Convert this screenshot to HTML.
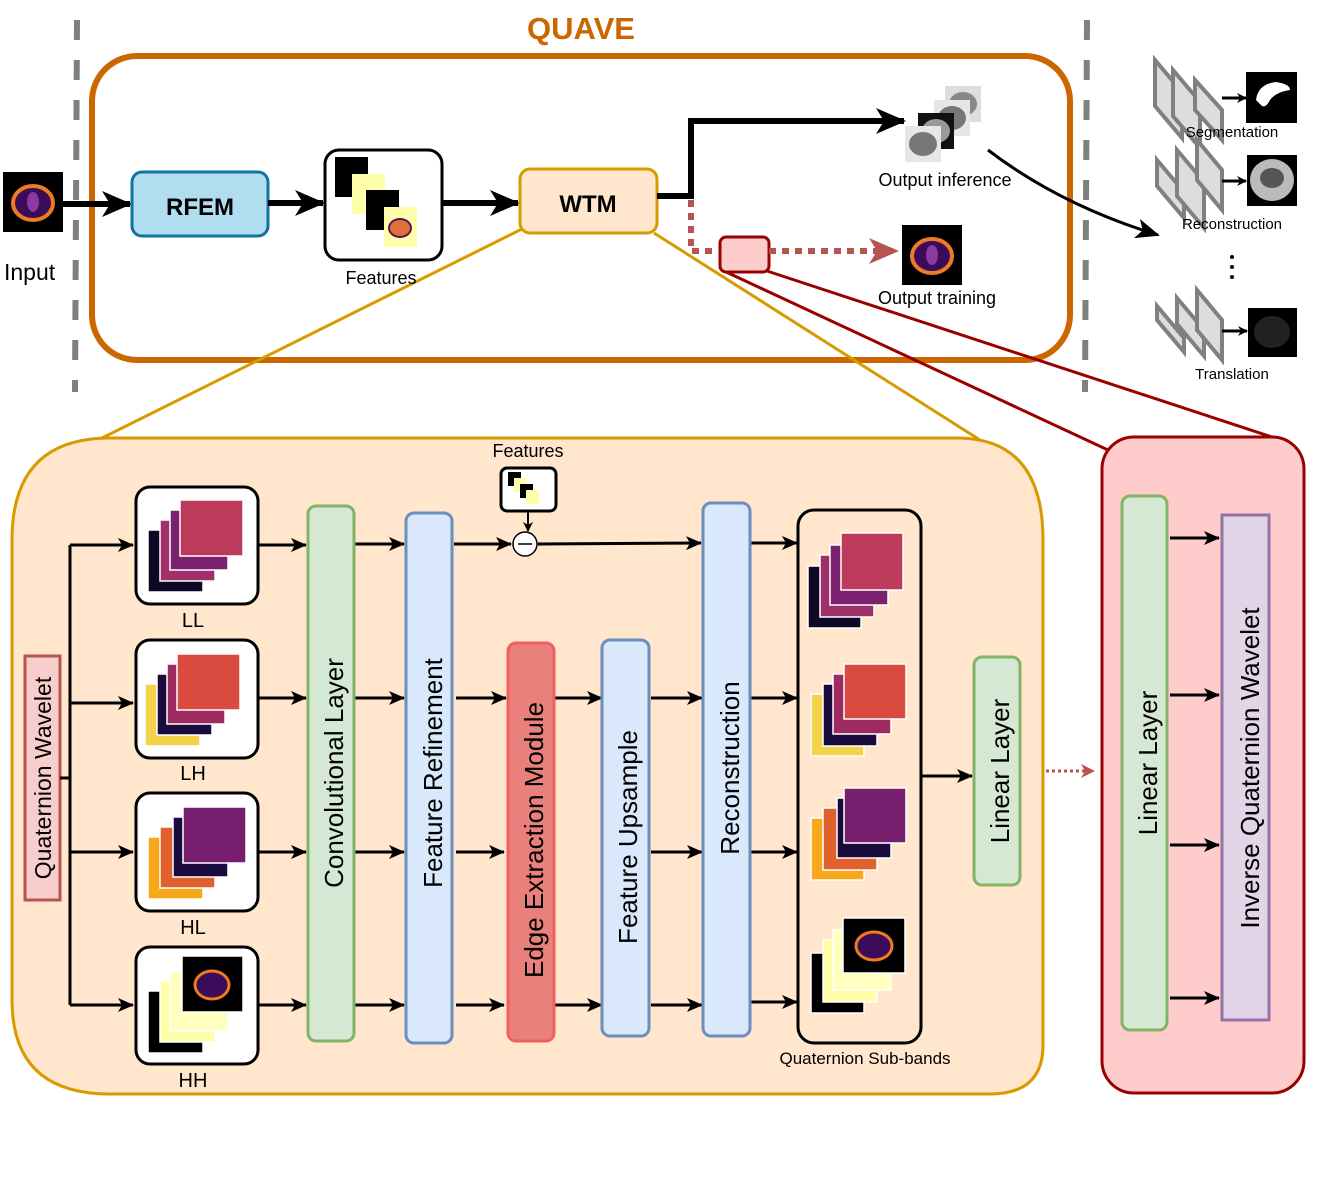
<!DOCTYPE html>
<html><head><meta charset="utf-8"><style>
html,body{margin:0;padding:0;background:#fff;}
svg{display:block;font-family:"Liberation Sans",Arial,sans-serif;}
</style></head><body>
<svg width="1329" height="1179" viewBox="0 0 1329 1179" xmlns="http://www.w3.org/2000/svg">
<defs>
<marker id="ah" markerWidth="16" markerHeight="16" refX="15" refY="8" orient="auto" markerUnits="userSpaceOnUse"><path d="M0,1 L16,8 L0,15 L4,8 Z" fill="#000"/></marker>
<marker id="ahs" markerWidth="10" markerHeight="10" refX="9" refY="5" orient="auto" markerUnits="userSpaceOnUse"><path d="M0,0 L10,5 L0,10 L3,5 Z" fill="#000"/></marker>
<marker id="ahb" markerWidth="30" markerHeight="30" refX="28" refY="15" orient="auto" markerUnits="userSpaceOnUse"><path d="M0,2 L30,15 L0,28 L8,15 Z" fill="#000"/></marker>
<marker id="ahm" markerWidth="24" markerHeight="24" refX="22" refY="12" orient="auto" markerUnits="userSpaceOnUse"><path d="M0,2 L24,12 L0,22 L6,12 Z" fill="#000"/></marker>
<marker id="ahr" markerWidth="30" markerHeight="30" refX="28" refY="15" orient="auto" markerUnits="userSpaceOnUse"><path d="M0,2 L30,15 L0,28 L8,15 Z" fill="#B85450"/></marker>
<marker id="ahr2" markerWidth="14" markerHeight="14" refX="13" refY="7" orient="auto" markerUnits="userSpaceOnUse"><path d="M0,0 L14,7 L0,14 L4,7 Z" fill="#B85450"/></marker>
<g id="brain">
<rect x="0" y="0" width="60" height="60" fill="#000"/>
<ellipse cx="30" cy="31" rx="20" ry="17" fill="#3a0c5a" stroke="#F07A20" stroke-width="4"/>
<ellipse cx="30" cy="30" rx="6" ry="10" fill="#8a3aa0"/>
</g>
</defs>

<line x1="77" y1="20" x2="75" y2="392" stroke="#808080" stroke-width="6" stroke-dasharray="20,20"/>
<line x1="1087" y1="20" x2="1085" y2="392" stroke="#808080" stroke-width="6" stroke-dasharray="20,20"/>

<text x="581" y="39" font-size="31" font-weight="bold" fill="#CC6600" text-anchor="middle">QUAVE</text>
<rect x="92" y="56" width="978" height="304" rx="45" fill="none" stroke="#CC6600" stroke-width="6"/>

<line x1="522" y1="229" x2="98" y2="440" stroke="#D79B00" stroke-width="3"/>
<line x1="654" y1="233" x2="980" y2="440" stroke="#D79B00" stroke-width="3"/>
<line x1="724" y1="271" x2="1108" y2="450" stroke="#990000" stroke-width="3"/>
<line x1="767" y1="271" x2="1275" y2="438" stroke="#990000" stroke-width="3"/>

<use href="#brain" x="3" y="172"/>
<text x="4" y="280" font-size="23">Input</text>
<line x1="63" y1="204" x2="130" y2="204" stroke="#000" stroke-width="6" marker-end="url(#ahb)"/>
<rect x="132" y="172" width="136" height="64" rx="10" fill="#B1DDF0" stroke="#10739E" stroke-width="3"/>
<text x="200" y="215" font-size="24" font-weight="bold" text-anchor="middle">RFEM</text>
<line x1="268" y1="203" x2="323" y2="203" stroke="#000" stroke-width="6" marker-end="url(#ahb)"/>
<rect x="325" y="150" width="117" height="110" rx="14" fill="#fff" stroke="#000" stroke-width="3"/>
<rect x="335" y="157" width="33" height="40" fill="#000"/>
<rect x="352" y="174" width="33" height="40" fill="#FFFFAA"/>
<rect x="366" y="190" width="33" height="40" fill="#000"/>
<rect x="384" y="207" width="33" height="40" fill="#FFFFAA"/>
<ellipse cx="400" cy="228" rx="11" ry="9" fill="#E0703A" stroke="#601060" stroke-width="2"/>
<text x="381" y="284" font-size="18" text-anchor="middle">Features</text>
<line x1="442" y1="203" x2="518" y2="203" stroke="#000" stroke-width="6" marker-end="url(#ahb)"/>
<rect x="520" y="169" width="137" height="64" rx="10" fill="#FFE6CC" stroke="#D79B00" stroke-width="3"/>
<text x="588" y="212" font-size="24" font-weight="bold" text-anchor="middle">WTM</text>

<polyline points="657,196 691,196 691,121 904,121" fill="none" stroke="#000" stroke-width="6" marker-end="url(#ahb)"/>
<rect x="945" y="86" width="36" height="36" fill="#ddd"/>
<ellipse cx="963" cy="104" rx="14" ry="12" fill="#888"/>
<rect x="934" y="100" width="36" height="36" fill="#e6e6e6"/>
<ellipse cx="952" cy="118" rx="14" ry="12" fill="#777"/>
<rect x="918" y="113" width="36" height="36" fill="#111"/>
<ellipse cx="936" cy="131" rx="14" ry="12" fill="#999"/>
<rect x="905" y="126" width="36" height="36" fill="#e6e6e6"/>
<ellipse cx="923" cy="144" rx="14" ry="12" fill="#777"/>
<text x="945" y="186" font-size="18" text-anchor="middle">Output inference</text>
<path d="M988,150 Q1060,205 1158,235" fill="none" stroke="#000" stroke-width="3" marker-end="url(#ahm)"/>

<polyline points="691,200 691,251 718,251" fill="none" stroke="#B85450" stroke-width="6" stroke-dasharray="7,6"/>
<rect x="720" y="237" width="49" height="35" rx="6" fill="#FFCCCC" stroke="#990000" stroke-width="3"/>
<line x1="769" y1="251" x2="897" y2="251" stroke="#B85450" stroke-width="6" stroke-dasharray="7,6" marker-end="url(#ahr)"/>
<use href="#brain" x="902" y="225"/>
<text x="937" y="304" font-size="18" text-anchor="middle">Output training</text>

<g fill="#DDDDDD" stroke="#808080" stroke-width="4">
<polygon points="1155,60 1182,92 1182,138 1155,106"/>
<polygon points="1173,70 1200,102 1200,148 1173,116"/>
<polygon points="1195,80 1222,110 1222,140 1195,110"/>
<polygon points="1157,160 1184,192 1184,218 1157,186"/>
<polygon points="1177,150 1204,182 1204,228 1177,196"/>
<polygon points="1197,140 1222,170 1222,210 1197,180"/>
<polygon points="1157,306 1184,338 1184,352 1157,320"/>
<polygon points="1177,298 1204,330 1204,356 1177,324"/>
<polygon points="1197,290 1222,320 1222,360 1197,330"/>
</g>
<line x1="1222" y1="98" x2="1246" y2="98" stroke="#000" stroke-width="3" marker-end="url(#ahs)"/>
<line x1="1222" y1="181" x2="1246" y2="181" stroke="#000" stroke-width="3" marker-end="url(#ahs)"/>
<line x1="1222" y1="331" x2="1247" y2="331" stroke="#000" stroke-width="3" marker-end="url(#ahs)"/>
<rect x="1246" y="72" width="51" height="51" fill="#000"/>
<path d="M1256,100 Q1258,84 1276,82 Q1290,84 1290,90 Q1276,92 1270,100 Q1266,108 1262,106 Z" fill="#fff"/>
<rect x="1247" y="155" width="50" height="51" fill="#000"/>
<ellipse cx="1272" cy="180" rx="22" ry="21" fill="#bbb"/>
<ellipse cx="1272" cy="178" rx="12" ry="10" fill="#555"/>
<rect x="1248" y="308" width="49" height="49" fill="#000"/>
<ellipse cx="1272" cy="332" rx="18" ry="16" fill="#222"/>
<text x="1232" y="137" font-size="15" text-anchor="middle">Segmentation</text>
<text x="1232" y="229" font-size="15" text-anchor="middle">Reconstruction</text>
<circle cx="1232" cy="257" r="2" fill="#000"/><circle cx="1232" cy="267" r="2" fill="#000"/><circle cx="1232" cy="277" r="2" fill="#000"/>
<text x="1232" y="379" font-size="15" text-anchor="middle">Translation</text>

<path d="M110,438 L960,438 Q1043,440 1043,540 L1043,1045 Q1043,1094 990,1094 L110,1094 Q12,1094 12,1000 L12,540 Q12,438 110,438 Z" fill="#FFE6CC" stroke="#D79B00" stroke-width="3"/>

<rect x="25" y="656" width="35" height="244" fill="#F8CECC" stroke="#B85450" stroke-width="3"/>
<text transform="translate(51,778) rotate(-90)" font-size="23" text-anchor="middle">Quaternion Wavelet</text>
<line x1="60" y1="778" x2="70" y2="778" stroke="#000" stroke-width="3"/>
<line x1="70" y1="545" x2="70" y2="1005" stroke="#000" stroke-width="3"/>
<g stroke="#000" stroke-width="3" marker-end="url(#ah)">
<line x1="70" y1="545" x2="133" y2="545"/><line x1="70" y1="703" x2="133" y2="703"/>
<line x1="70" y1="852" x2="133" y2="852"/><line x1="70" y1="1005" x2="133" y2="1005"/>
</g>

<g stroke="#000" stroke-width="3" fill="#fff">
<rect x="136" y="487" width="122" height="117" rx="14"/>
<rect x="136" y="640" width="122" height="118" rx="14"/>
<rect x="136" y="793" width="122" height="118" rx="14"/>
<rect x="136" y="947" width="122" height="117" rx="14"/>
</g>
<g stroke="#fff" stroke-width="1.5">
<g transform="translate(135,486)"><rect x="13" y="44" width="55" height="62" fill="#0C0826"/><rect x="25" y="34" width="55" height="61" fill="#A0306A"/><rect x="35" y="24" width="58" height="60" fill="#7A2270"/><rect x="45" y="14" width="63" height="56" fill="#BC3A5A"/></g>
<g transform="translate(135,640)"><rect x="10" y="44" width="55" height="62" fill="#F3D34A"/><rect x="22" y="34" width="55" height="61" fill="#1A0B3F"/><rect x="32" y="24" width="58" height="60" fill="#9E2B60"/><rect x="42" y="14" width="63" height="56" fill="#D94B40"/></g>
<g transform="translate(135,793)"><rect x="13" y="44" width="55" height="62" fill="#F9A81C"/><rect x="25" y="34" width="55" height="61" fill="#E0602E"/><rect x="38" y="24" width="55" height="60" fill="#1A0B3F"/><rect x="48" y="14" width="63" height="56" fill="#771E6E"/></g>
<g transform="translate(135,947)"><rect x="13" y="44" width="55" height="62" fill="#000"/><rect x="25" y="34" width="55" height="61" fill="#FFFFAA"/><rect x="35" y="24" width="58" height="60" fill="#FFFFC0"/><rect x="47" y="9" width="61" height="56" fill="#000"/></g>
</g>
<ellipse cx="212" cy="985" rx="17" ry="14" fill="#3a0c5a" stroke="#F07A20" stroke-width="3"/>
<g font-size="20" text-anchor="middle"><text x="193" y="627">LL</text><text x="193" y="780">LH</text><text x="193" y="934">HL</text><text x="193" y="1087">HH</text></g>

<g stroke="#000" stroke-width="3" marker-end="url(#ah)">
<line x1="258" y1="545" x2="306" y2="545"/><line x1="258" y1="698" x2="306" y2="698"/><line x1="258" y1="852" x2="306" y2="852"/><line x1="258" y1="1005" x2="306" y2="1005"/>
<line x1="354" y1="544" x2="404" y2="544"/><line x1="354" y1="698" x2="404" y2="698"/><line x1="354" y1="852" x2="404" y2="852"/><line x1="354" y1="1005" x2="404" y2="1005"/>
<line x1="454" y1="544" x2="511" y2="544"/><line x1="456" y1="698" x2="506" y2="698"/><line x1="456" y1="852" x2="504" y2="852"/><line x1="456" y1="1005" x2="504" y2="1005"/>
<line x1="538" y1="544" x2="701" y2="543"/>
<line x1="554" y1="698" x2="602" y2="698"/><line x1="554" y1="1005" x2="602" y2="1005"/>
<line x1="651" y1="698" x2="702" y2="698"/><line x1="651" y1="852" x2="702" y2="852"/><line x1="651" y1="1005" x2="702" y2="1005"/>
<line x1="750" y1="543" x2="797" y2="543"/><line x1="750" y1="698" x2="797" y2="698"/><line x1="750" y1="852" x2="797" y2="852"/><line x1="750" y1="1002" x2="797" y2="1002"/>
<line x1="921" y1="776" x2="972" y2="776"/>
</g>
<line x1="528" y1="512" x2="528" y2="531" stroke="#000" stroke-width="2" marker-end="url(#ahs)"/>

<rect x="308" y="506" width="46" height="535" rx="8" fill="#D5E8D4" stroke="#82B366" stroke-width="3"/>
<text transform="translate(343,773) rotate(-90)" font-size="26" text-anchor="middle">Convolutional Layer</text>
<rect x="406" y="513" width="46" height="530" rx="8" fill="#DAE8FC" stroke="#6C8EBF" stroke-width="3"/>
<text transform="translate(442,773) rotate(-90)" font-size="26" text-anchor="middle">Feature Refinement</text>

<text x="528" y="457" font-size="18" text-anchor="middle">Features</text>
<rect x="501" y="468" width="55" height="43" rx="6" fill="#fff" stroke="#000" stroke-width="3"/>
<rect x="508" y="472" width="13" height="14" fill="#000"/><rect x="514" y="478" width="13" height="14" fill="#FFFFAA"/>
<rect x="520" y="484" width="13" height="14" fill="#000"/><rect x="526" y="490" width="13" height="14" fill="#FFFFAA"/>
<circle cx="525" cy="544" r="12" fill="#fff" stroke="#000" stroke-width="1.5"/>
<line x1="518" y1="544" x2="532" y2="544" stroke="#000" stroke-width="1.5"/>

<rect x="508" y="643" width="46" height="398" rx="8" fill="#EA807B" stroke="#F06060" stroke-width="3"/>
<text transform="translate(543,840) rotate(-90)" font-size="26" text-anchor="middle">Edge Extraction Module</text>
<rect x="602" y="640" width="47" height="396" rx="8" fill="#DAE8FC" stroke="#6C8EBF" stroke-width="3"/>
<text transform="translate(637,837) rotate(-90)" font-size="26" text-anchor="middle">Feature Upsample</text>
<rect x="703" y="503" width="47" height="533" rx="8" fill="#DAE8FC" stroke="#6C8EBF" stroke-width="3"/>
<text transform="translate(739,768) rotate(-90)" font-size="26" text-anchor="middle">Reconstruction</text>

<rect x="798" y="510" width="123" height="533" rx="16" fill="none" stroke="#000" stroke-width="3"/>
<g stroke="#fff" stroke-width="1.5">
<g transform="translate(808,533)"><rect x="0" y="33" width="53" height="62" fill="#0C0826"/><rect x="12" y="22" width="54" height="62" fill="#A0306A"/><rect x="22" y="12" width="58" height="60" fill="#7A2270"/><rect x="33" y="0" width="62" height="57" fill="#BC3A5A"/></g>
<g transform="translate(811,664)"><rect x="0" y="30" width="53" height="62" fill="#F3D34A"/><rect x="12" y="20" width="54" height="62" fill="#1A0B3F"/><rect x="22" y="10" width="58" height="60" fill="#9E2B60"/><rect x="33" y="0" width="62" height="55" fill="#D94B40"/></g>
<g transform="translate(811,788)"><rect x="0" y="30" width="53" height="62" fill="#F9A81C"/><rect x="12" y="20" width="54" height="62" fill="#E0602E"/><rect x="26" y="10" width="54" height="60" fill="#1A0B3F"/><rect x="33" y="0" width="62" height="55" fill="#771E6E"/></g>
<g transform="translate(811,918)"><rect x="0" y="35" width="53" height="60" fill="#000"/><rect x="12" y="22" width="54" height="62" fill="#FFFFAA"/><rect x="22" y="12" width="58" height="60" fill="#FFFFC0"/><rect x="32" y="0" width="62" height="55" fill="#000"/></g>
</g>
<ellipse cx="874" cy="946" rx="18" ry="14" fill="#3a0c5a" stroke="#F07A20" stroke-width="3"/>
<text x="865" y="1064" font-size="17" text-anchor="middle">Quaternion Sub-bands</text>

<rect x="974" y="657" width="46" height="228" rx="8" fill="#D5E8D4" stroke="#82B366" stroke-width="3"/>
<text transform="translate(1009,771) rotate(-90)" font-size="26" text-anchor="middle">Linear Layer</text>
<line x1="1046" y1="771" x2="1094" y2="771" stroke="#B85450" stroke-width="3" stroke-dasharray="3,3" marker-end="url(#ahr2)"/>

<rect x="1102" y="437" width="202" height="656" rx="32" fill="#FFCCCC" stroke="#990000" stroke-width="3"/>
<rect x="1122" y="496" width="45" height="534" rx="8" fill="#D5E8D4" stroke="#82B366" stroke-width="3"/>
<text transform="translate(1157,763) rotate(-90)" font-size="26" text-anchor="middle">Linear Layer</text>
<rect x="1222" y="515" width="47" height="505" fill="#E1D5E7" stroke="#9673A6" stroke-width="3"/>
<text transform="translate(1259,768) rotate(-90)" font-size="26" text-anchor="middle">Inverse Quaternion Wavelet</text>
<g stroke="#000" stroke-width="3" marker-end="url(#ah)">
<line x1="1170" y1="538" x2="1219" y2="538"/><line x1="1170" y1="695" x2="1219" y2="695"/><line x1="1170" y1="845" x2="1219" y2="845"/><line x1="1170" y1="998" x2="1219" y2="998"/>
</g>
</svg>
</body></html>
